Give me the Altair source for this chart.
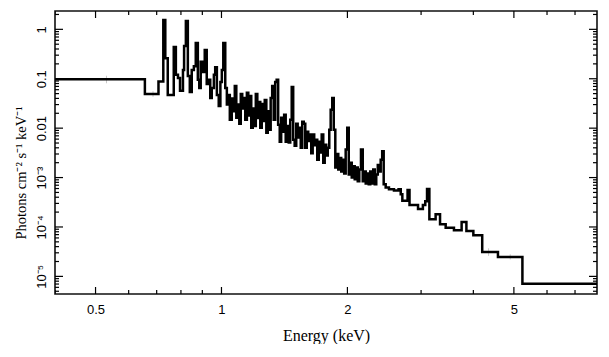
import math
import altair as alt
import pandas as pd

# ---- spectrum (step histogram): bin lower edges (keV) and flux ----
energy_lo = [
    0.40, 0.656, 0.707,
    0.726, 0.734, 0.744, 0.769, 0.778, 0.787, 0.796, 0.809, 0.814, 0.822,
    0.831, 0.840, 0.849, 0.859, 0.868, 0.878, 0.885, 0.892, 0.902, 0.912,
    0.922, 0.932, 0.940, 0.948, 0.959, 0.966, 0.975, 0.985, 0.994, 1.002,
    1.010, 1.021, 1.030, 1.038, 1.047, 1.058, 1.067, 1.076, 1.085, 1.094,
    1.103, 1.112, 1.121, 1.131, 1.140, 1.150, 1.159, 1.169, 1.178, 1.188,
    1.198, 1.208, 1.218, 1.228, 1.238, 1.248, 1.259, 1.269, 1.280, 1.290,
    1.301, 1.311, 1.322, 1.333, 1.344, 1.355, 1.366, 1.378, 1.389, 1.401,
    1.412, 1.424, 1.436, 1.448, 1.460, 1.472, 1.484, 1.496, 1.509, 1.521,
    1.534, 1.547, 1.560, 1.573, 1.586, 1.599, 1.612, 1.626, 1.639, 1.652,
    1.666, 1.680, 1.694, 1.708, 1.722, 1.736, 1.751, 1.765, 1.780, 1.795,
    1.810, 1.824, 1.840, 1.855, 1.871, 1.886, 1.902, 1.917, 1.933, 1.949,
    1.965, 1.981, 1.998, 2.015, 2.031, 2.048, 2.065, 2.082, 2.100, 2.117,
    2.135, 2.155, 2.176, 2.194, 2.212, 2.231, 2.249, 2.268, 2.287, 2.306,
    2.325, 2.344, 2.364, 2.383, 2.402, 2.422, 2.442, 2.469, 2.514, 2.584,
    2.650, 2.682, 2.706, 2.785, 2.815, 2.950, 3.030, 3.070, 3.100, 3.140,
    3.250, 3.330, 3.435, 3.595, 3.750, 3.850, 4.000, 4.200, 4.580, 5.240,
]
energy_hi_last = 8.0
flux = [
    0.098, 0.049, 0.088,
    1.54, 0.26, 0.047, 0.44, 0.12, 0.104, 0.057, 0.15, 0.46, 1.47,
    0.114, 0.054, 0.15, 0.18, 0.53, 0.095, 0.065, 0.22, 0.137, 0.38,
    0.078, 0.095, 0.041, 0.065, 0.12, 0.17, 0.047, 0.028, 0.086, 0.15,
    0.53, 0.065, 0.030, 0.047, 0.0148, 0.040, 0.022, 0.071, 0.0162, 0.030,
    0.0123, 0.049, 0.025, 0.041, 0.0148, 0.052, 0.018, 0.045, 0.0102, 0.025,
    0.011, 0.049, 0.016, 0.034, 0.0102, 0.031, 0.014, 0.037, 0.0081, 0.022,
    0.0093, 0.041, 0.071, 0.0148, 0.086, 0.095, 0.0117, 0.0053, 0.0162, 0.0085,
    0.0186, 0.0053, 0.011, 0.0051, 0.0148, 0.068, 0.0058, 0.0044, 0.0123, 0.0065,
    0.0102, 0.0040, 0.0135, 0.0123, 0.0040, 0.0085, 0.0055, 0.0074, 0.0031, 0.0074,
    0.0045, 0.0058, 0.0023, 0.0053, 0.0032, 0.0074, 0.0020, 0.0046, 0.0028, 0.0040,
    0.0093, 0.0235, 0.041, 0.0093, 0.0016, 0.0030, 0.00146, 0.0025, 0.00133, 0.0023,
    0.00121, 0.0037, 0.0102, 0.00115, 0.0020, 0.0010, 0.0017, 0.00092, 0.0016, 0.00084,
    0.00146, 0.0037, 0.00084, 0.00133, 0.00076, 0.00121, 0.00073, 0.00133, 0.00076, 0.00146,
    0.00073, 0.00115, 0.0018, 0.00133, 0.0023, 0.0034, 0.00073, 0.00063, 0.00058, 0.00055,
    0.00058, 0.00046, 0.00034, 0.00056, 0.00028, 0.00023, 0.00028, 0.00033, 0.00059, 0.000143,
    0.00018, 0.000113, 0.000097, 0.000086, 0.000126, 0.000083, 0.000068, 0.000031, 0.0000247, 0.0000071,
]

# a few faint data error bars visible behind the model line
err_energy = [0.531, 0.686, 4.35, 4.90]
err_lo = [0.081, 0.043, 0.000026, 0.000022]
err_hi = [0.115, 0.056, 0.000037, 0.000028]

# axis ticks / labels
x_domain = [0.4, 7.9]
y_domain = [4.4e-6, 2.35]
x_major = [0.5, 1, 2, 5]
x_minor = [0.4, 0.6, 0.7, 0.8, 0.9, 3, 4, 6, 7]
y_major = [1e-5, 1e-4, 1e-3, 0.01, 0.1, 1]
y_major_labels = ["10⁻⁵", "10⁻⁴", "10⁻³", "0.01", "0.1", "1"]
y_minor = [m * 10.0 ** d for d in range(-6, 1) for m in range(2, 10)
           if y_domain[0] <= m * 10.0 ** d <= y_domain[1]]

W, H = 542, 283
SANS = "Liberation Sans"
SERIF = "Liberation Serif"

xs = alt.Scale(type="log", domain=x_domain)
ys = alt.Scale(type="log", domain=y_domain)

line_df = pd.DataFrame({"E": energy_lo + [energy_hi_last],
                        "F": flux + [flux[-1]]})
err_df = pd.DataFrame({"E": err_energy, "F": err_lo, "hi": err_hi})

parts = []
for v, lab in zip(y_major, y_major_labels):
    parts.append(f"abs(log(datum.value)/log(10) - ({math.log10(v)})) < 0.01 ? '{lab}'")
y_label_expr = " : ".join(parts) + " : ''"

x_axis = alt.Axis(values=x_major, format="~g", ticks=False, tickSize=0, domain=False,
                  grid=False, labelFont=SANS, labelFontSize=13, labelColor="black",
                  labelBaseline="alphabetic", labelPadding=19,
                  title="Energy (keV)", titleFont=SERIF, titleFontSize=16,
                  titleFontWeight="normal", titleColor="black",
                  titleBaseline="alphabetic", titleY=46)
y_axis = alt.Axis(values=y_major, labelExpr=y_label_expr, ticks=False, tickSize=0,
                  domain=False, grid=False, labelFont=SANS, labelFontSize=13,
                  labelColor="black", labelAngle=270, labelAlign="center",
                  labelBaseline="alphabetic", labelPadding=10,
                  title="Photons cm⁻² s⁻¹ keV⁻¹", titleFont=SERIF, titleFontSize=14.5,
                  titleFontWeight="normal", titleColor="black", titleAngle=270,
                  titleAlign="center", titleBaseline="alphabetic", titleX=-30,
                  titleY=H / 2 + 20)

errbars = alt.Chart(err_df).mark_rule(color="#c8c8c8", strokeWidth=1, clip=True).encode(
    x=alt.X("E:Q", scale=xs, axis=x_axis),
    y=alt.Y("F:Q", scale=ys, axis=y_axis),
    y2="hi:Q",
)

spectrum = alt.Chart(line_df).mark_line(
    interpolate="step-after", color="black", strokeWidth=2.5, clip=True
).encode(
    x=alt.X("E:Q", scale=xs, axis=x_axis),
    y=alt.Y("F:Q", scale=ys, axis=y_axis),
)


def xticks(vals, y0, y1):
    return alt.Chart(pd.DataFrame({"E": vals})).mark_rule(
        color="black", strokeWidth=1.2, clip=True
    ).encode(x=alt.X("E:Q", scale=xs), y=alt.value(y0), y2=alt.value(y1))


def yticks(vals, x0, x1):
    return alt.Chart(pd.DataFrame({"F": vals})).mark_rule(
        color="black", strokeWidth=1.2, clip=True
    ).encode(y=alt.Y("F:Q", scale=ys), x=alt.value(x0), x2=alt.value(x1))


MAJ, MIN = 7, 4
tick_layers = [
    xticks(x_major, H, H - MAJ), xticks(x_minor, H, H - MIN),
    xticks(x_major, 0, MAJ), xticks(x_minor, 0, MIN),
    yticks(y_major, 0, MAJ + 1), yticks(y_minor, 0, MIN),
    yticks(y_major, W, W - MAJ - 1), yticks(y_minor, W, W - MIN),
]

chart = alt.layer(errbars, spectrum, *tick_layers).properties(
    width=W, height=H,
    autosize=alt.AutoSizeParams(type="none"),
    padding={"left": 47, "top": 3, "right": 4, "bottom": 50},
    background="white",
).configure_view(stroke="#111111", strokeWidth=1.6)

chart.save("out.html", embed_options={"renderer": "svg", "actions": False})
